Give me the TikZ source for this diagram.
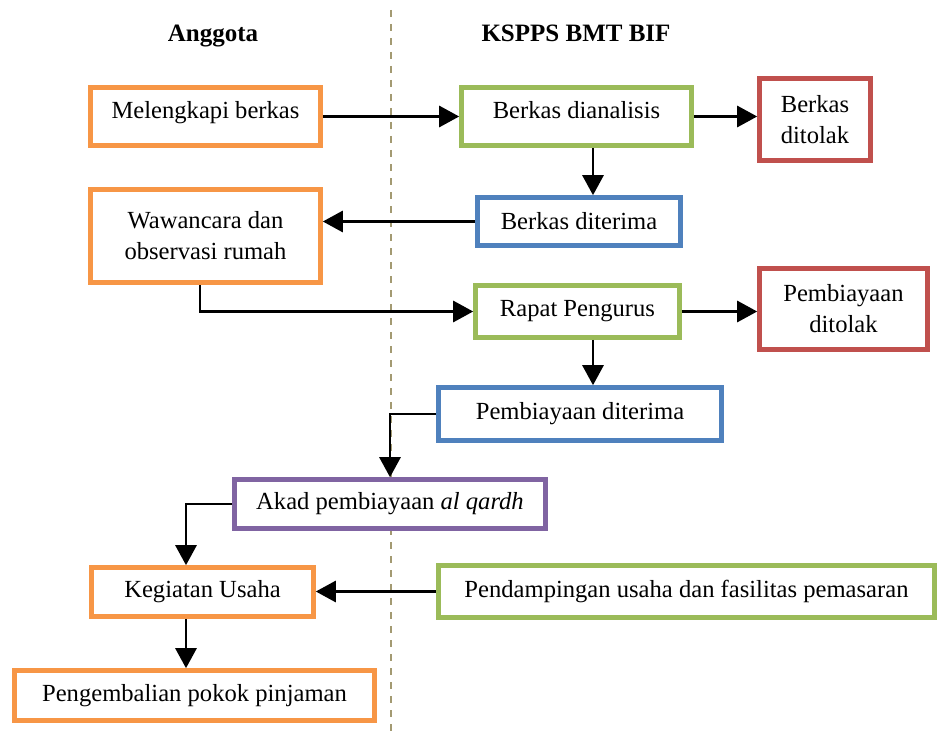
\documentclass[tikz,border=0pt]{standalone}
\usepackage{fontspec}
\setmainfont{Liberation Serif}
\usetikzlibrary{arrows.meta}
\definecolor{bxorange}{HTML}{F79646}
\definecolor{bxgreen}{HTML}{9BBB59}
\definecolor{bxblue}{HTML}{4F81BD}
\definecolor{bxred}{HTML}{C0504D}
\definecolor{bxpurple}{HTML}{8064A2}
\definecolor{laneline}{HTML}{A39A72}
\begin{document}
\begin{tikzpicture}[x=0.5pt,y=-0.5pt,
  every node/.style={font=\fontsize{12.3}{15.5}\selectfont},
  box/.style={draw=#1, line width=2.3pt, fill=white, inner sep=0pt, align=center},
  arr/.style={line width=1.4pt, -{Triangle[length=10pt,width=10.5pt]}},
  title/.style={font=\fontsize{12.5}{15}\selectfont\bfseries, anchor=base}]
\useasboundingbox (0,0) rectangle (937,738);
\draw[laneline, line width=1pt, dash pattern=on 3.5pt off 3.5pt] (391,10) -- (391,738);

\node[title] (t1) at (213,42) {Anggota};
\node[title] (t2) at (576,42) {KSPPS BMT BIF};

\node[box=bxorange, minimum width=115pt, minimum height=29pt, text depth=6.4pt] (mel) at (205.5,116.5) {Melengkapi berkas};
\node[box=bxgreen, minimum width=115pt, minimum height=29pt, text depth=6.4pt] (ana) at (576.5,116.5) {Berkas dianalisis};
\node[box=bxred, minimum width=55.5pt, minimum height=41pt] (tol1) at (815,119.5) {Berkas\\ditolak};
\node[box=bxblue, minimum width=101.5pt, minimum height=24pt] (ter1) at (579,221.5) {Berkas diterima};
\node[box=bxorange, minimum width=115pt, minimum height=46.5pt] (waw) at (205.5,236) {Wawancara dan\\observasi rumah};
\node[box=bxgreen, minimum width=102pt, minimum height=26pt] (rap) at (577.5,311.5) {Rapat Pengurus};
\node[box=bxred, minimum width=84pt, minimum height=40.5pt] (tol2) at (843.5,309) {Pembiayaan\\ditolak};
\node[box=bxblue, minimum width=141.5pt, minimum height=26.5pt] (ter2) at (580,414) {Pembiayaan diterima};
\node[box=bxpurple, minimum width=155.5pt, minimum height=24.5pt] (akad) at (390,504) {Akad pembiayaan \textit{al qardh}};
\node[box=bxorange, minimum width=111pt, minimum height=24.5pt] (keg) at (202.5,592) {Kegiatan Usaha};
\node[box=bxgreen, minimum width=248pt, minimum height=26pt] (pend) at (686.5,591.5) {Pendampingan usaha dan fasilitas pemasaran};
\node[box=bxorange, minimum width=180pt, minimum height=25pt] (peng) at (194.5,695.5) {Pengembalian pokok pinjaman};

\coordinate (cx1) at (593,0);
\coordinate (cx2) at (200,0);
\coordinate (cx3) at (186,0);

\draw[arr] (mel.east) -- (ana.west);
\draw[arr] (ana.east) -- (ana.east -| tol1.west);
\draw[arr] (ana.south -| cx1) -- (ter1.north -| cx1);
\draw[arr] (ter1.west) -- (ter1.west -| waw.east);
\draw[arr] (waw.south -| cx2) |- (rap.west);
\draw[arr] (rap.east) -- (rap.east -| tol2.west);
\draw[arr] (rap.south -| cx1) -- (ter2.north -| cx1);
\draw[arr] (ter2.west) -| (akad.north);
\draw[arr] (akad.west) -| (keg.north -| cx3);
\draw[arr] (pend.west) -- (pend.west -| keg.east);
\draw[arr] (keg.south -| cx3) -- (peng.north -| cx3);
\end{tikzpicture}
\end{document}
